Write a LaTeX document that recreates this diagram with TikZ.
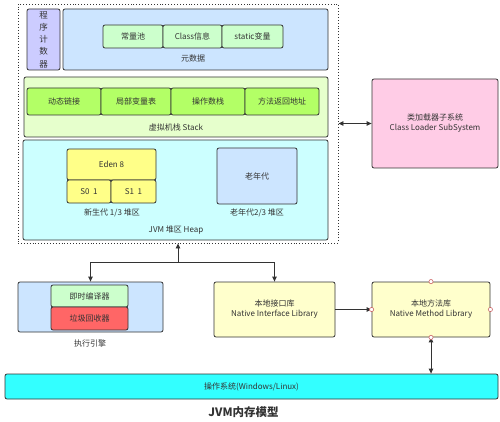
\documentclass[tikz,border=0pt]{standalone}
\usepackage{fontspec}
\setmainfont{Noto Sans CJK SC}
\usetikzlibrary{arrows.meta}
\definecolor{linec}{HTML}{333333}
\definecolor{txt}{HTML}{333333}
\definecolor{pcfill}{HTML}{CCCCFF}
\definecolor{bluefill}{HTML}{CCE5FF}
\definecolor{greenfill}{HTML}{CCFFCC}
\definecolor{stackfill}{HTML}{E6FFCC}
\definecolor{stackin}{HTML}{B3FF66}
\definecolor{heapfill}{HTML}{CCFFFF}
\definecolor{edenfill}{HTML}{FFFF88}
\definecolor{pinkfill}{HTML}{FFCCE6}
\definecolor{redfill}{HTML}{FF6666}
\definecolor{yelfill}{HTML}{FFFFCC}
\definecolor{osfill}{HTML}{33FFFF}
\definecolor{dotred}{HTML}{CC6666}
\tikzset{
  box/.style={draw=linec, line width=0.8pt, rounded corners=2pt, inner sep=0pt, text=txt,
    font=\fontsize{8}{10}\selectfont, align=center},
  lbl/.style={inner sep=0pt, text=txt, font=\fontsize{8}{10}\selectfont, align=center},
  conn/.style={draw=linec, line width=0.9pt, -{Triangle[length=5pt,width=4.5pt]}},
  dconn/.style={draw=linec, line width=0.9pt, {Triangle[length=5pt,width=4.5pt]}-{Triangle[length=5pt,width=4.5pt]}},
  port/.style={circle, draw=dotred, fill=white, line width=0.6pt, inner sep=0pt, minimum size=4.2pt},
}
\begin{document}
\begin{tikzpicture}[x=1pt,y=-1pt]
\useasboundingbox (0,0) rectangle (500,422);
% outer dotted region
\node[draw=linec, dotted, line width=0.9pt, minimum width=320pt, minimum height=239pt, inner sep=0pt] (outer) at (178,123.5) {};
% program counter
\node[box, fill=pcfill, minimum width=33pt, minimum height=61pt, font=\fontsize{8.5}{12.2}\selectfont] (pc) at (43.5,39.5) {程\\序\\计\\数\\器};
% metadata
\node[box, fill=bluefill, minimum width=265pt, minimum height=61pt] (meta) at (195.5,39.5) {};
\node[box, fill=greenfill, minimum width=60pt, minimum height=23pt] (cpool) at (133,36.5) {常量池};
\node[box, fill=greenfill, minimum width=59pt, minimum height=23pt] (cinfo) at (192.5,36.5) {Class信息};
\node[box, fill=greenfill, minimum width=61pt, minimum height=23pt] (svar) at (252.5,36.5) {static变量};
\node[lbl] (metal) at (193,58.5) {元数据};
% stack
\node[box, fill=stackfill, minimum width=304pt, minimum height=60pt] (stack) at (176,107) {};
\node[box, fill=stackin, minimum width=74pt, minimum height=27pt] (dl) at (64,101.5) {动态链接};
\node[box, fill=stackin, minimum width=70pt, minimum height=27pt] (lv) at (136,101.5) {局部变量表};
\node[box, fill=stackin, minimum width=74pt, minimum height=27pt] (os1) at (208,101.5) {操作数栈};
\node[box, fill=stackin, minimum width=74pt, minimum height=27pt] (ra) at (282,101.5) {方法返回地址};
\node[lbl] (stackl) at (176,127.5) {虚拟机栈 Stack};
% heap
\node[box, fill=heapfill, minimum width=305pt, minimum height=100pt] (heap) at (175.5,190) {};
\node[box, fill=edenfill, minimum width=89pt, minimum height=31pt] (eden) at (111.5,164.5) {Eden 8};
\node[box, fill=edenfill, minimum width=44pt, minimum height=23pt] (s0) at (89,191.5) {S0\ \ 1};
\node[box, fill=edenfill, minimum width=45pt, minimum height=23pt] (s1) at (133.5,191.5) {S1\ \ 1};
\node[lbl] (youngl) at (112,213) {新生代 1/3 堆区};
\node[box, fill=bluefill, minimum width=80pt, minimum height=56pt] (old) at (257,176) {老年代};
\node[lbl] (oldl) at (257,213) {老年代2/3 堆区};
\node[lbl] (heapl) at (176,230.5) {JVM 堆区 Heap};
% class loader
\node[box, fill=pinkfill, minimum width=126pt, minimum height=89pt] (cl) at (435,123.5) {类加载器子系统\\Class Loader SubSystem};
% execution engine
\node[box, fill=bluefill, minimum width=145pt, minimum height=50pt] (exec) at (90.5,307) {};
\node[box, fill=greenfill, minimum width=77pt, minimum height=22pt] (jit) at (89.5,296) {即时编译器};
\node[box, fill=redfill, minimum width=77pt, minimum height=23pt] (gc) at (89.5,318.5) {垃圾回收器};
\node[lbl] (execl) at (90,343.5) {执行引擎};
% native
\node[box, fill=yelfill, minimum width=121pt, minimum height=55pt] (nil) at (274.5,309.5) {本地接口库\\Native Interface Library};
\node[box, fill=yelfill, minimum width=118pt, minimum height=55pt] (nml) at (431,309.5) {本地方法库\\Native Method Library};
% OS
\node[box, fill=osfill, minimum width=493pt, minimum height=25pt] (osb) at (251.5,386.5) {操作系统(Windows/Linux)};
% title
\node[inner sep=0pt, text=txt, font=\fontsize{11.5}{13}\selectfont\bfseries] (title) at (243.5,412) {JVM内存模型};
% connectors
\coordinate (j) at (178,262);
\draw[dconn] (outer.east) -- (cl.west);
\draw[conn] (j) -- (outer.south);
\draw[conn] (j) -| (exec.north);
\draw[conn] (j) -| (nil.north);
\draw[conn] (nil.east) -- (nml.west);
\draw[dconn] (nml.south) -- (nml.south |- osb.north);
% ports
\node[port] (pn) at (nml.north) {};
\node[port] (ps) at (nml.south) {};
\node[port] (pw) at (nml.west) {};
\node[port] (pe) at (nml.east) {};
\end{tikzpicture}
\end{document}
